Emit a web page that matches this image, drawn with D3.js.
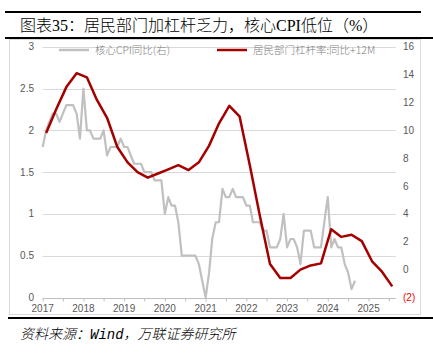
<!DOCTYPE html>
<html>
<head>
<meta charset="utf-8">
<script src="https://cdn.jsdelivr.net/npm/d3@7"></script>
<style>
  body { margin: 0; background: #fff; }
  svg { display: block; }
</style>
</head>
<body>
<div id="chart"></div>
<script>
// 核心CPI同比，月度，2017-01 起
const cpiStart = "2017-01";
const cpiValues = [
  1.8, 2.0, 2.1, 2.2, 2.2, 2.1, 2.2, 2.3, 2.3, 2.3, 2.2, 1.9,
  2.5, 2.0, 2.0, 1.9, 1.9, 1.9, 2.0, 1.7, 1.8, 1.8, 1.8, 1.9,
  1.8, 1.8, 1.7, 1.6, 1.6, 1.6, 1.5, 1.5, 1.5, 1.4, 1.4, 1.4,
  1.0, 1.2, 1.1, 1.1, 0.9, 0.5, 0.5, 0.5, 0.5, 0.5, 0.4, 0.2,
  0.0, 0.3, 0.7, 0.9, 0.9, 1.3, 1.2, 1.2, 1.3, 1.2, 1.2, 1.2,
  1.1, 1.1, 0.9, 0.9, 0.9, 0.8, 0.8, 0.6, 0.6, 0.6, 0.7, 1.0,
  0.6, 0.7, 0.7, 0.6, 0.4, 0.8, 0.8, 0.8, 0.6, 0.6, 0.6, 0.9,
  1.2, 0.6, 0.7, 0.6, 0.6, 0.4, 0.3, 0.1, 0.2
];

// 居民部门杠杆率同比（前移12个月），季度
const levDates = [
  "2017-02", "2017-05", "2017-08", "2017-11", "2018-02", "2018-05", "2018-08", "2018-11",
  "2019-02", "2019-05", "2019-08", "2019-11", "2020-02", "2020-05", "2020-08", "2020-11",
  "2021-02", "2021-05", "2021-08", "2021-11", "2022-02", "2022-05", "2022-08", "2022-11",
  "2023-02", "2023-05", "2023-08", "2023-11", "2024-02", "2024-05", "2024-08", "2024-11",
  "2025-02", "2025-05", "2025-08"
];
const levValues = [
  9.8, 11.5, 13.1, 14.1, 13.8, 12.2, 10.9, 8.8,
  7.7, 7.0, 6.6, 6.9, 7.2, 7.5, 7.15, 7.7,
  8.9, 10.5, 11.75, 11.0, 7.5, 3.9, 0.4, -0.6,
  -0.6, 0.0, 0.3, 0.45, 2.9, 2.35, 2.5, 2.05,
  0.6, -0.15, -1.2
];

const leftTicks = [0, 0.5, 1, 1.5, 2, 2.5, 3];
const rightTicks = [-2, 0, 2, 4, 6, 8, 10, 12, 14, 16];
const yearTicks = ["2017", "2018", "2019", "2020", "2021", "2022", "2023", "2024", "2025"];

const title = "图表35：居民部门加杠杆乏力，核心CPI低位（%）";
const source = "资料来源：Wind，万联证券研究所";
const cpiName = "核心CPI同比(右)";
const levName = "居民部门杠杆率:同比+12M";

const width = 433, height = 353;
const parse = d3.timeParse("%Y-%m");

const svg = d3.select("#chart").append("svg")
  .attr("width", width)
  .attr("height", height);

// 标题上下粗线
svg.append("line").attr("x1", 5).attr("x2", 421).attr("y1", 12).attr("y2", 12)
  .attr("stroke", "#000").attr("stroke-width", 2);
svg.append("line").attr("x1", 5).attr("x2", width).attr("y1", 38).attr("y2", 38)
  .attr("stroke", "#000").attr("stroke-width", 2);

svg.append("text")
  .attr("x", 20).attr("y", 31)
  .style("font-family", "'Liberation Serif', 'Noto Sans CJK SC', serif")
  .style("font-size", "16px")
  .style("font-weight", 300)
  .attr("fill", "#000")
  .text(title);

// 图框
svg.append("rect")
  .attr("x", 9.5).attr("y", 39.5).attr("width", 411).attr("height", 275)
  .attr("fill", "none").attr("stroke", "#d9d9d9");

svg.append("line").attr("x1", 8).attr("x2", width).attr("y1", 318).attr("y2", 318)
  .attr("stroke", "#000").attr("stroke-width", 2);

svg.append("text")
  .attr("x", 20).attr("y", 339)
  .style("font-family", "'Liberation Mono', 'Noto Sans CJK SC', monospace")
  .style("font-style", "italic")
  .style("font-size", "14px")
  .style("font-weight", 300)
  .attr("fill", "#000")
  .text(source);

const x = d3.scaleTime()
  .domain([parse("2017-01"), parse("2025-09")])
  .range([42.7, 395.7]);
const yL = d3.scaleLinear().domain([0, 3]).range([297.5, 46.7]);
const yR = d3.scaleLinear().domain([-2, 16]).range([297.5, 46.7]);

// 网格线
svg.append("g").selectAll("line")
  .data(leftTicks.filter(d => d > 0))
  .join("line")
  .attr("x1", x.range()[0]).attr("x2", x.range()[1])
  .attr("y1", d => Math.round(yL(d)) + 0.5).attr("y2", d => Math.round(yL(d)) + 0.5)
  .attr("stroke", "#d9d9d9");

const labelFont = "'Liberation Sans', Arial, sans-serif";

svg.append("g").selectAll("text")
  .data(leftTicks)
  .join("text")
  .attr("x", 34).attr("y", d => yL(d) + 3.5)
  .attr("text-anchor", "end")
  .style("font-family", labelFont).style("font-size", "10px")
  .attr("fill", "#595959")
  .text(d => d);

svg.append("g").selectAll("text")
  .data(rightTicks)
  .join("text")
  .attr("x", 403).attr("y", d => yR(d) + 3.5)
  .style("font-family", labelFont).style("font-size", "10px")
  .attr("fill", d => d < 0 ? "#ff0000" : "#595959")
  .text(d => d < 0 ? `(${-d})` : d);

// 横轴
const xAxis = d3.axisBottom(x)
  .tickValues(d3.timeMonth.every(6).range(parse("2017-01"), parse("2025-10")))
  .tickSize(3)
  .tickFormat("");
const gx = svg.append("g")
  .attr("transform", `translate(0,${Math.round(yL(0)) + 0.5})`)
  .call(xAxis);
gx.select(".domain").attr("stroke", "#bfbfbf").attr("d", `M${x.range()[0]},0H${x.range()[1]}`);
gx.selectAll(".tick line").attr("stroke", "#bfbfbf");

svg.append("g").selectAll("text")
  .data(yearTicks)
  .join("text")
  .attr("x", d => x(parse(d + "-01")))
  .attr("y", 311.5)
  .attr("text-anchor", "middle")
  .style("font-family", labelFont).style("font-size", "10px")
  .attr("fill", "#595959")
  .text(d => d);

// 核心CPI
const cpiDates = d3.timeMonth.range(parse(cpiStart), d3.timeMonth.offset(parse(cpiStart), cpiValues.length));
const cpiData = cpiValues.map((v, i) => ({ date: cpiDates[i], value: v }));

svg.append("path")
  .datum(cpiData)
  .attr("fill", "none")
  .attr("stroke", "#c0c0c0")
  .attr("stroke-width", 2.2)
  .attr("stroke-linejoin", "round")
  .attr("d", d3.line().x(d => x(d.date)).y(d => yL(d.value)));

// 居民部门杠杆率
const levData = levValues.map((v, i) => ({ date: parse(levDates[i]), value: v }));

svg.append("path")
  .datum(levData)
  .attr("fill", "none")
  .attr("stroke", "#a50000")
  .attr("stroke-width", 2.5)
  .attr("stroke-linejoin", "round")
  .attr("d", d3.line().x(d => x(d.date)).y(d => yR(d.value)));

// 图例
const legendFont = "'Noto Sans CJK SC', 'Liberation Sans', sans-serif";
const legend = [
  { name: cpiName, color: "#c0c0c0", x: 59 },
  { name: levName, color: "#a50000", x: 217 }
];
const lg = svg.append("g").selectAll("g")
  .data(legend)
  .join("g")
  .attr("transform", d => `translate(${d.x},50)`);
lg.append("line")
  .attr("x1", 0).attr("x2", 30)
  .attr("stroke", d => d.color).attr("stroke-width", 2.5);
lg.append("text")
  .attr("x", 36).attr("y", 4)
  .style("font-family", legendFont).style("font-size", "10.5px")
  .style("font-weight", 300)
  .attr("fill", "#808080")
  .text(d => d.name);
</script>
</body>
</html>
